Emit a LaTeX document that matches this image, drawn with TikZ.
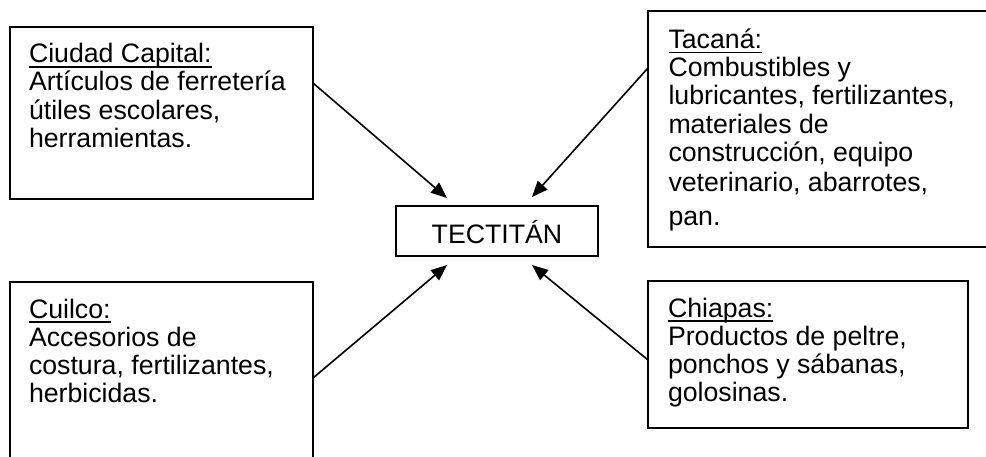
\documentclass[tikz,border=0pt]{standalone}
\usepackage{fontspec}
\setmainfont{Liberation Sans}
\usetikzlibrary{arrows.meta,calc}
\newcommand\ulx[1]{\setbox0\hbox{#1}\rlap{\rule[-5pt]{\wd0}{1.6pt}}\box0}
\newcommand\txtlines[1]{\vtop{\baselineskip=28.3pt\lineskiplimit=-100pt\lineskip=0pt #1}}
\tikzset{
  box/.style={draw, line width=1.6pt, inner sep=0pt, outer sep=0pt, anchor=north west},
  txt/.style={inner sep=0pt, outer sep=0pt, anchor=base west, font=\fontsize{26.7}{28.3}\selectfont},
  arr/.style={line width=1.6pt, -{Triangle[length=16pt,width=13pt]}}
}
\begin{document}
\begin{tikzpicture}[x=1pt,y=-1pt]
\useasboundingbox (0,0) rectangle (986,456);
\clip (0,0) rectangle (986,456);
% boxes
\node[box, minimum width=303pt, minimum height=172pt] (b1) at (10,27) {};
\node[box, minimum width=345pt, minimum height=236pt] (b2) at (648,11) {};
\node[box, minimum width=303pt, minimum height=200pt] (b3) at (10,282) {};
\node[box, minimum width=320pt, minimum height=147pt] (b4) at (648,281) {};
\node[box, minimum width=202pt, minimum height=50pt] (c) at (396,206) {};
% texts
\node[txt] (t1) at (29,62.5) {\txtlines{\hbox{\ulx{Ciudad Capital:}}\hbox{Artículos de ferretería}\hbox{útiles escolares,}\hbox{herramientas.}}};
\node[txt] (t2) at (668.5,48.3) {\txtlines{\hbox{\ulx{Tacaná:}}\hbox{Combustibles y}\hbox{lubricantes, fertilizantes,}\hbox{materiales de}\hbox{construcción, equipo}\vskip 1.7pt\hbox{veterinario, abarrotes,}\vskip 5.7pt\hbox{pan.}}};
\node[txt] (t3) at (29,318) {\txtlines{\hbox{\ulx{Cuilco:}}\hbox{Accesorios de}\hbox{costura, fertilizantes,}\hbox{herbicidas.}}};
\node[txt] (t4) at (668,317) {\txtlines{\hbox{\ulx{Chiapas:}}\hbox{Productos de peltre,}\hbox{ponchos y sábanas,}\hbox{golosinas.}}};
\node[txt, anchor=base] (ct) at (497,243.3) {TECTITÁN};
% connector end points
\coordinate (s1) at ($(b1.north east)+(0,56)$);
\coordinate (e1) at ($(c.north west)+(51,-8)$);
\coordinate (s2) at ($(b2.north west)+(0,57)$);
\coordinate (e2) at ($(c.north east)+(-66,-9)$);
\coordinate (s3) at ($(b3.north east)+(0,96)$);
\coordinate (e3) at ($(c.south west)+(51,9)$);
\coordinate (s4) at ($(b4.north west)+(0,79)$);
\coordinate (e4) at ($(c.south east)+(-66,9)$);
\draw[arr] (s1) -- (e1);
\draw[arr] (s2) -- (e2);
\draw[arr] (s3) -- (e3);
\draw[arr] (s4) -- (e4);
\end{tikzpicture}
\end{document}
